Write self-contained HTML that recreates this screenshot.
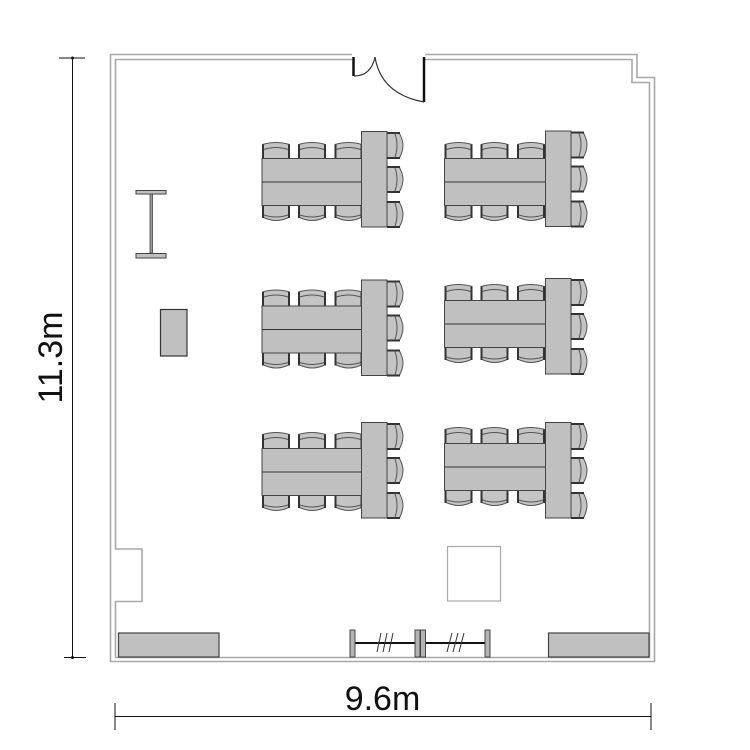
<!DOCTYPE html>
<html><head><meta charset="utf-8"><style>html,body{margin:0;padding:0;background:#fff}svg{display:block}text{font-family:"Liberation Sans",sans-serif;fill:#111}</style></head>
<body>
<svg width="750" height="750" viewBox="0 0 750 750" xmlns="http://www.w3.org/2000/svg">
<defs>
<g id="ct">
  <path d="M0.500 16V2Q14 -2 27.500 2V16" fill="#c4c4c4" stroke="#555" stroke-width="1"/>
  <path d="M1 16V2" stroke="#333" stroke-width="2" fill="none"/><path d="M27 16V2" stroke="#333" stroke-width="2" fill="none"/>
  <path d="M2 7Q14 3 26 7" fill="none" stroke="#555" stroke-width="1"/>
</g>
<g id="cb">
  <path d="M0.500 0V12Q8 15.500 14 15.500Q21 15.500 27.500 12V0" fill="#c4c4c4" stroke="#555" stroke-width="1"/>
  <path d="M1 0V13" stroke="#333" stroke-width="2" fill="none"/><path d="M27 0V13" stroke="#333" stroke-width="2" fill="none"/>
  <path d="M2 10Q14 14 26 10" fill="none" stroke="#555" stroke-width="1"/>
</g>
<g id="cr">
  <path d="M0 0.500H12Q16 8 16 13Q16 20 12 26.500H0" fill="#c4c4c4" stroke="#555" stroke-width="1"/>
  <path d="M0 1H13" stroke="#333" stroke-width="2" fill="none"/><path d="M0 26H13" stroke="#333" stroke-width="2" fill="none"/>
  <path d="M8 2Q12 13 8 25" fill="none" stroke="#555" stroke-width="1"/>
</g>
<g id="hs">
  <use href="#ct" x="262" y="142.500"/><use href="#ct" x="298" y="142.500"/><use href="#ct" x="334.500" y="142.500"/>
  <use href="#cb" x="262" y="205"/><use href="#cb" x="298" y="205"/><use href="#cb" x="334.500" y="205"/>
  <rect x="262" y="158.500" width="101" height="47" fill="#c0c0c0" stroke="#444" stroke-width="1"/>
  <path d="M262 182H363" stroke="#333" stroke-width="1"/>
</g>
<g id="vs">
  <use href="#cr" x="387" y="132"/><use href="#cr" x="387" y="166"/><use href="#cr" x="387" y="201"/>
  <rect x="361.500" y="131.500" width="25.500" height="95.500" fill="#c0c0c0" stroke="#444" stroke-width="1"/>
</g>
</defs>

<!-- walls -->
<g fill="none" stroke="#a8a8a8" stroke-width="1.600">
  <path d="M352 54.500H110.500V661.500H654.500V77.500H637V54.500H425"/>
  <path d="M352 59.500H115.500V549H142V601.500H115.500V657.500H649.500V82.500H632V59.500H425"/>
</g>

<!-- door -->
<path d="M353.500 57V76" stroke="#111" stroke-width="2.500" fill="none"/>
<path d="M424 57V102" stroke="#111" stroke-width="2.500" fill="none"/>
<path d="M354 76Q371 76 375 57" stroke="#333" stroke-width="1.200" fill="none"/>
<path d="M375 57Q381 94 424 102" stroke="#333" stroke-width="1.200" fill="none"/>

<!-- table sets -->
<use href="#hs"/><use href="#vs"/>
<use href="#hs" x="182.500"/><use href="#vs" x="184" y="-0.500"/>
<use href="#hs" y="147.500"/><use href="#vs" y="148.500"/>
<use href="#hs" x="182.500" y="142"/><use href="#vs" x="184" y="147"/>
<use href="#hs" y="290"/><use href="#vs" y="291"/>
<use href="#hs" x="182.500" y="285"/><use href="#vs" x="184" y="291"/>

<!-- screen -->
<rect x="136" y="190.500" width="30" height="3.500" fill="#c0c0c0" stroke="#444" stroke-width="1"/>
<rect x="136" y="253.500" width="30" height="4.500" fill="#c0c0c0" stroke="#444" stroke-width="1"/>
<rect x="150" y="194" width="2.500" height="59" fill="#999" stroke="#444" stroke-width="0.800"/>

<!-- lectern -->
<rect x="160.500" y="309.500" width="26.500" height="46.500" fill="#c0c0c0" stroke="#333" stroke-width="1.200"/>

<!-- white square -->
<rect x="447.500" y="546.500" width="53" height="54.500" fill="#fff" stroke="#aaa" stroke-width="1.200"/>

<!-- cabinets -->
<rect x="118.500" y="633" width="100.500" height="24" fill="#c0c0c0" stroke="#444" stroke-width="1.200"/>
<rect x="548.500" y="633" width="100.500" height="24" fill="#c0c0c0" stroke="#444" stroke-width="1.200"/>

<!-- partition -->
<path d="M352 643H488" stroke="#111" stroke-width="2"/>
<g fill="#b4b4b4" stroke="#444" stroke-width="1">
  <rect x="350" y="630" width="5" height="27"/>
  <rect x="415" y="630" width="5" height="27"/>
  <rect x="420.500" y="630" width="5" height="27"/>
  <rect x="485" y="630" width="5" height="27"/>
</g>
<g stroke="#333" stroke-width="1" fill="none">
  <path d="M377 652L381 633M383 652L387 633M389 652L393 633"/>
  <path d="M447 652L452 633M453 652L458 633M459 652L464 633"/>
</g>

<!-- dimensions -->
<g stroke="#111" stroke-width="1" fill="none">
  <path d="M72.500 58V657.500"/><path d="M59 58H85"/><path d="M64 657.500H86"/>
  <path d="M115 716.500H651"/><path d="M115 703V730"/><path d="M651 703V730"/>
</g>
<circle cx="72.500" cy="58" r="1.500" fill="#111"/><circle cx="72.500" cy="657.500" r="1.500" fill="#111"/>
<text x="382.500" y="710" font-size="34" text-anchor="middle">9.6m</text>
<text transform="translate(62 357.500) rotate(-90)" font-size="34" text-anchor="middle">11.3m</text>
</svg>
</body></html>
